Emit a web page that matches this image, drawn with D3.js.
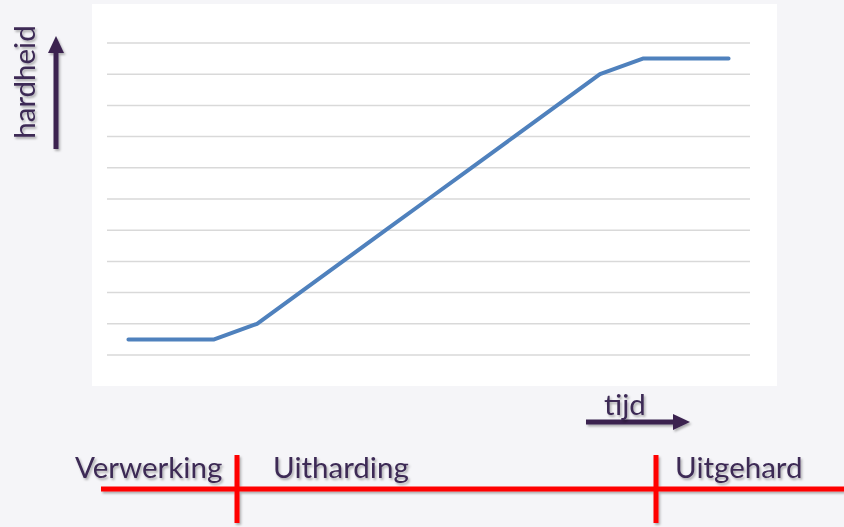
<!DOCTYPE html>
<html>
<head>
<meta charset="utf-8">
<script src="https://cdn.jsdelivr.net/npm/d3@7"></script>
<style>
  body { margin: 0; background: #f5f5f8; }
  svg { display: block; }
  text { font-family: Lato, "Open Sans", sans-serif; fill: #3c2a55; }
</style>
</head>
<body>
<svg id="chart"></svg>
<script>
// stappen op de tijd-as (categorieen)
let stappen = [1, 2, 3, 4, 5, 6, 7, 8, 9, 10, 11, 12, 13, 14, 15];
// hardheid per stap
let hardheid = [0.5, 0.5, 0.5, 1, 2, 3, 4, 5, 6, 7, 8, 9, 9.5, 9.5, 9.5];
// rasterlijnen
let rasterWaarden = [0, 1, 2, 3, 4, 5, 6, 7, 8, 9, 10];
// fasen onder de grafiek
let fasen = ["Verwerking", "Uitharding", "Uitgehard"];

function chartConfig(){
    let width = 844;
    let height = 527;
    let plot = {left: 92, top: 4, right: 777, bottom: 386};
    let inner = {left: 107, right: 750, top: 43, bottom: 355};
    let container = d3.select("#chart")
        .attr("width", width)
        .attr("height", height);
    return {width, height, plot, inner, container};
}

function chartScales(config){
    let {inner} = config;
    let xScale = d3.scaleBand()
        .domain(stappen)
        .range([inner.left, inner.right]);
    let yScale = d3.scaleLinear()
        .domain([0, 10])
        .range([inner.bottom, inner.top]);
    return {xScale, yScale};
}

function addDefs(config){
    let {container, width, height} = config;
    let defs = container.append("defs");
    defs.append("filter").attr("id", "schaduw")
        .attr("filterUnits", "userSpaceOnUse")
        .attr("x", 0).attr("y", 0)
        .attr("width", width).attr("height", height)
        .append("feDropShadow")
        .attr("dx", 1.5).attr("dy", 2)
        .attr("stdDeviation", 1.2)
        .attr("flood-color", "#000")
        .attr("flood-opacity", 0.3);
}

function drawPlot(config, scales){
    let {container, plot, inner} = config;
    let {xScale, yScale} = scales;

    container.append("rect")
        .attr("x", plot.left).attr("y", plot.top)
        .attr("width", plot.right - plot.left)
        .attr("height", plot.bottom - plot.top)
        .attr("fill", "#ffffff");

    container.append("g").selectAll("line")
        .data(rasterWaarden)
        .enter().append("line")
        .attr("x1", inner.left).attr("x2", inner.right)
        .attr("y1", d => yScale(d)).attr("y2", d => yScale(d))
        .attr("stroke", "#d9d9d9")
        .attr("stroke-width", 1.5);

    let line = d3.line()
        .x((d, i) => xScale(stappen[i]) + xScale.bandwidth() / 2)
        .y(d => yScale(d));

    container.append("path")
        .datum(hardheid)
        .attr("d", line)
        .attr("fill", "none")
        .attr("stroke", "#4f81bd")
        .attr("stroke-width", 4)
        .attr("stroke-linejoin", "round")
        .attr("stroke-linecap", "round");
}

function drawAxisLabels(config){
    let {container} = config;
    let kleur = "#3a2350";

    // verticale pijl + "hardheid"
    let pijlOmhoog = container.append("g").attr("filter", "url(#schaduw)");
    pijlOmhoog.append("line")
        .attr("x1", 56).attr("y1", 149)
        .attr("x2", 56).attr("y2", 50)
        .attr("stroke", kleur)
        .attr("stroke-width", 5);
    pijlOmhoog.append("path")
        .attr("d", "M48,53 L56,36 L64,53 Z")
        .attr("fill", kleur);

    // filter op de groep, zodat de rotatie niet buiten het filtervlak valt
    container.append("g")
        .attr("filter", "url(#schaduw)")
        .append("text")
        .attr("transform", "translate(35,82) rotate(-90)")
        .attr("text-anchor", "middle")
        .attr("font-size", 29.5)
        .text("hardheid");

    // horizontale pijl + "tijd"
    let pijlRechts = container.append("g").attr("filter", "url(#schaduw)");
    pijlRechts.append("line")
        .attr("x1", 586).attr("y1", 422)
        .attr("x2", 676).attr("y2", 422)
        .attr("stroke", kleur)
        .attr("stroke-width", 5);
    pijlRechts.append("path")
        .attr("d", "M673,414 L690,422 L673,430 Z")
        .attr("fill", kleur);

    container.append("text")
        .attr("x", 604).attr("y", 415)
        .attr("font-size", 29.5)
        .attr("filter", "url(#schaduw)")
        .text("tijd");
}

function drawTimeline(config){
    let {container, width} = config;
    let g = container.append("g").attr("filter", "url(#schaduw)");

    g.append("line")
        .attr("x1", 101).attr("x2", width)
        .attr("y1", 489).attr("y2", 489)
        .attr("stroke", "#ff0000")
        .attr("stroke-width", 5);

    let grenzen = [237, 656];
    g.selectAll(".grens")
        .data(grenzen)
        .enter().append("line")
        .attr("class", "grens")
        .attr("x1", d => d).attr("x2", d => d)
        .attr("y1", 455).attr("y2", 523)
        .attr("stroke", "#ff0000")
        .attr("stroke-width", 5);

    let labelX = [75, 273, 675];
    container.selectAll(".fase")
        .data(fasen)
        .enter().append("text")
        .attr("class", "fase")
        .attr("x", (d, i) => labelX[i])
        .attr("y", 478)
        .attr("font-size", 29.5)
        .attr("filter", "url(#schaduw)")
        .text(d => d);
}

let config = chartConfig();
let scales = chartScales(config);
addDefs(config);
drawPlot(config, scales);
drawAxisLabels(config);
drawTimeline(config);
</script>
</body>
</html>
